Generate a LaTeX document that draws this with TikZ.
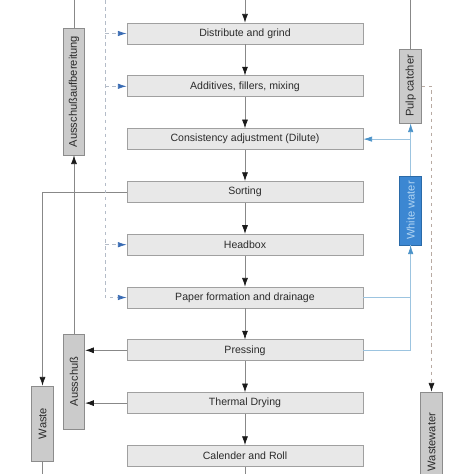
\documentclass[tikz,border=0pt]{standalone}
\usepackage{fontspec}
\setmainfont{Liberation Sans}
\usepackage{graphicx}
\usetikzlibrary{shapes,arrows.meta,positioning}
\definecolor{boxfill}{HTML}{E8E8E8}
\definecolor{boxline}{HTML}{A0A0A0}
\definecolor{sidefill}{HTML}{CBCBCB}
\definecolor{sideline}{HTML}{8C8C8C}
\definecolor{lineclr}{HTML}{888888}
\definecolor{tipclr}{HTML}{1A1A1A}
\definecolor{feedclr}{HTML}{B4BCC8}
\definecolor{feedtip}{HTML}{3A6CB4}
\definecolor{waterclr}{HTML}{9CC4E0}
\definecolor{watertip}{HTML}{4A92C8}
\definecolor{whitefill}{HTML}{3C87D2}
\definecolor{whiteline}{HTML}{2A6AA8}
\definecolor{whitetext}{HTML}{B0D4F2}
\definecolor{drainclr}{HTML}{B8AAA2}
\definecolor{textclr}{HTML}{2A2A2A}

\begin{document}
\begin{tikzpicture}[node distance=1.584cm,
	stage/.style={draw=boxline, fill=boxfill, text=textclr, line width=0.6pt, minimum width=7.08cm, minimum height=0.63cm, inner sep=0pt, font=\fontsize{9}{10}\selectfont},
	side/.style={draw=sideline, fill=sidefill, text=textclr, line width=0.6pt, minimum width=0.65cm, inner sep=0pt, font=\fontsize{9.5}{10}\selectfont},
	flow/.style={draw=lineclr, line width=0.6pt, -{Latex[length=2.6mm,width=1.8mm,tipclr]}},
	line/.style={draw=lineclr, line width=0.6pt},
	feed/.style={draw=feedclr, line width=0.6pt, dashed},
	feedin/.style={feed, -{Latex[length=2.6mm,width=1.6mm,feedtip]}},
	water/.style={draw=waterclr, line width=0.6pt},
	waterin/.style={water, -{Latex[length=2.6mm,width=1.6mm,watertip]}},
	drain/.style={draw=drainclr, line width=0.6pt, dashed, -{Latex[length=2.6mm,width=1.8mm,tipclr]}}]
	\useasboundingbox (0,0) rectangle (14.22,-14.22);

	% main line
	\node (dist) [stage] at (7.35,-1.005) {Distribute and grind};
	\node (add) [stage, below of=dist] {Additives, fillers, mixing};
	\node (consist) [stage, below of=add] {Consistency adjustment (Dilute)};
	\node (sort) [stage, below of=consist] {Sorting};
	\node (headbox) [stage, below of=sort] {Headbox};
	\node (paper) [stage, below of=headbox] {Paper formation and drainage};
	\node (press) [stage, below of=paper] {Pressing};
	\node (dry) [stage, below of=press] {Thermal Drying};
	\node (cal) [stage, below of=dry] {Calender and Roll};

	% side boxes
	\node (ausauf) [side, minimum height=3.81cm] at (2.22,-2.745) {\rotatebox{90}{Ausschußaufbereitung}};
	\node (aus) [side, minimum height=2.85cm] at (2.22,-11.445) {\rotatebox{90}{Ausschuß}};
	\node (waste) [side, minimum height=2.25cm] at (1.275,-12.705) {\rotatebox{90}{Waste}};
	\node (pulp) [side, minimum height=2.22cm] at (12.32,-2.58) {\rotatebox{90}{Pulp catcher}};
	\node (white) [side, draw=whiteline, fill=whitefill, text=whitetext, minimum height=2.07cm] at (12.32,-6.315) {\rotatebox{90}{White water}};
	\node (ww) [side, minimum height=3.0cm] at (12.945,-13.26) {\rotatebox{90}{Wastewater}};

	\coordinate (maintop) at (7.35,0);
	\coordinate (mainbot) at (7.35,-14.22);
	\coordinate (auftop) at (2.22,0);
	\coordinate (wastebot) at (1.275,-14.22);
	\coordinate (feedtop) at (3.15,0);
	\coordinate (pulptop) at (12.32,0);

	% product flow
	\draw[flow] (maintop) -- (dist);
	\draw[flow] (dist) -- (add);
	\draw[flow] (add) -- (consist);
	\draw[flow] (consist) -- (sort);
	\draw[flow] (sort) -- (headbox);
	\draw[flow] (headbox) -- (paper);
	\draw[flow] (paper) -- (press);
	\draw[flow] (press) -- (dry);
	\draw[flow] (dry) -- (cal);
	\draw[line] (cal) -- (mainbot);

	% broke and waste
	\draw[line] (ausauf) -- (auftop);
	\draw[flow] (aus) -- (ausauf);
	\draw[flow] (press.west) -- (press.west -| aus.east);
	\draw[flow] (dry.west) -- (dry.west -| aus.east);
	\draw[flow] (sort.west) -| (waste.north);
	\draw[line] (waste) -- (wastebot);

	% dashed feed
	\draw[feedin] (feedtop) |- (paper.west);
	\draw[feedin] (feedtop |- dist.west) -- (dist.west);
	\draw[feedin] (feedtop |- add.west) -- (add.west);
	\draw[feedin] (feedtop |- headbox.west) -- (headbox.west);

	% white water
	\draw[line] (pulp) -- (pulptop);
	\draw[waterin] (white.north) -- (pulp.south);
	\draw[waterin] (white.north |- consist.east) -- (consist.east);
	\draw[water] (paper.east) -| (white.south);
	\draw[waterin] (press.east) -| (white.south);

	% wastewater
	\draw[drain] (pulp.east) -| (ww.north);
\end{tikzpicture}
\end{document}
